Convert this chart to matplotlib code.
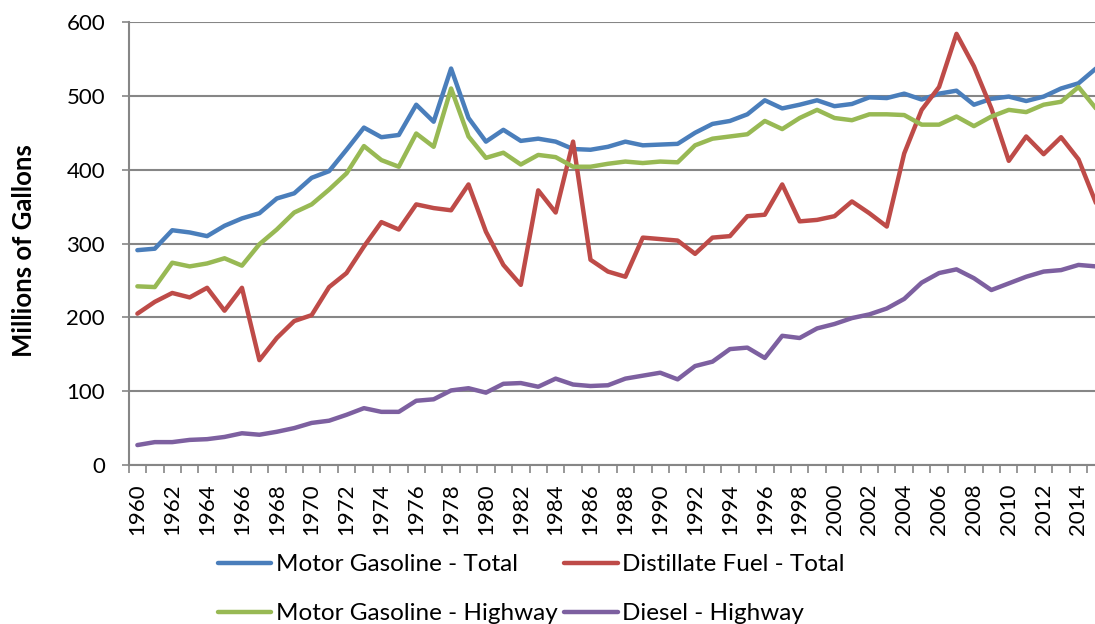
import numpy as np
import matplotlib.pyplot as plt
from matplotlib.ticker import MultipleLocator, FixedLocator

plt.rcParams['font.family'] = ['Lato', 'DejaVu Sans']

# Annual consumption, millions of gallons
years = list(range(1960, 2016))

motor_gas_total = [
    291, 293, 318, 315, 310, 324, 334, 341, 361, 368,
    389, 398, 427, 457, 444, 447, 488, 465, 537, 470,
    438, 454, 439, 442, 438, 428, 427, 431, 438, 433,
    434, 435, 450, 462, 466, 475, 494, 483, 488, 494,
    486, 489, 498, 497, 503, 495, 503, 507, 488, 496,
    499, 493, 499, 510, 517, 537,
]

distillate_total = [
    205, 221, 233, 227, 240, 209, 240, 142, 172, 195,
    203, 241, 260, 296, 329, 319, 353, 348, 345, 380,
    316, 271, 244, 372, 342, 438, 278, 262, 255, 308,
    306, 304, 286, 308, 310, 337, 339, 380, 330, 332,
    337, 357, 341, 323, 422, 481, 512, 584, 540, 483,
    412, 445, 421, 444, 414, 355,
]

motor_gas_highway = [
    242, 241, 274, 269, 273, 280, 270, 299, 319, 342,
    353, 373, 395, 432, 413, 404, 449, 431, 510, 445,
    416, 423, 407, 420, 417, 404, 404, 408, 411, 409,
    411, 410, 433, 442, 445, 448, 466, 455, 470, 481,
    470, 467, 475, 475, 474, 461, 461, 472, 459, 472,
    481, 478, 488, 492, 512, 483,
]

diesel_highway = [
    27, 31, 31, 34, 35, 38, 43, 41, 45, 50,
    57, 60, 68, 77, 72, 72, 87, 89, 101, 104,
    98, 110, 111, 106, 117, 109, 107, 108, 117, 121,
    125, 116, 134, 140, 157, 159, 145, 175, 172, 185,
    191, 199, 204, 212, 225, 247, 260, 265, 253, 237,
    246, 255, 262, 264, 271, 269,
]

series = [
    ('Motor Gasoline - Total', motor_gas_total, '#4A7EBB'),
    ('Distillate Fuel - Total', distillate_total, '#BE4B48'),
    ('Motor Gasoline - Highway', motor_gas_highway, '#98B954'),
    ('Diesel - Highway', diesel_highway, '#7D60A0'),
]

fig = plt.figure(figsize=(10.95, 6.24), dpi=100)
ax = fig.add_axes([0.1175, 0.2548, 0.8913, 0.7099])

lines = {}
for name, vals, color in series:
    lines[name], = ax.plot(years, vals, color=color, lw=3.2,
                           solid_joinstyle='round', solid_capstyle='round',
                           label=name, zorder=3)

grid_c = '#868686'
ax.set_ylim(0, 600)
ax.set_xlim(1959.5, 2015.5)
ax.yaxis.set_major_locator(MultipleLocator(100))
ax.yaxis.grid(True, color=grid_c, lw=1.5)
ax.set_axisbelow(True)

# year labels every other category, tick marks between categories
ax.xaxis.set_major_locator(FixedLocator(years[::2]))
ax.xaxis.set_minor_locator(FixedLocator(np.arange(1959.5, 2016, 1)))
ax.tick_params(axis='x', which='major', length=0, labelrotation=90,
               labelsize=16, pad=13)
ax.tick_params(axis='x', which='minor', length=6, width=1.2, color=grid_c,
               direction='out')
ax.tick_params(axis='y', length=5, width=1.2, color=grid_c, labelsize=16,
               pad=12)

for s in ['top', 'right']:
    ax.spines[s].set_visible(False)
for s in ['left', 'bottom']:
    ax.spines[s].set_color(grid_c)
    ax.spines[s].set_linewidth(1.5)

ax.set_ylabel('Millions of Gallons', fontsize=18.5, fontweight='bold')
ax.yaxis.set_label_coords(-0.095, 0.485)

order = ['Motor Gasoline - Total', 'Motor Gasoline - Highway',
         'Distillate Fuel - Total', 'Diesel - Highway']
leg = fig.legend([lines[n] for n in order], order, ncol=2,
                 loc='upper left', bbox_to_anchor=(0.199, 0.112),
                 frameon=False, fontsize=17.5, handlelength=2.2,
                 handletextpad=0.2, columnspacing=0.25, labelspacing=1.15,
                 borderaxespad=0, borderpad=0)

fig.savefig('out.png', dpi=100)
